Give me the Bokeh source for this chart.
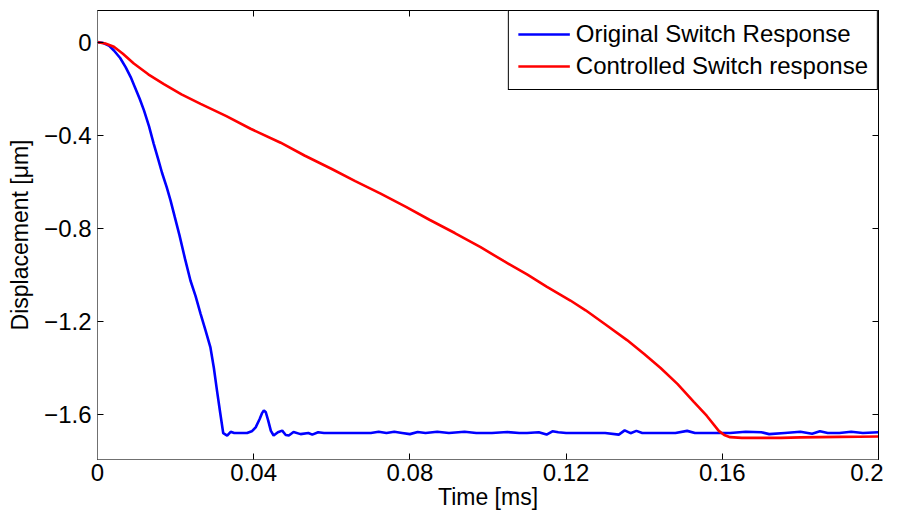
from bokeh.plotting import figure
from bokeh.models import Range1d, LinearAxis, FixedTicker, Legend, LegendItem, CustomJSTickFormatter
from bokeh.embed import file_html
from bokeh.resources import INLINE

# Original switch response (blue)
t_orig = [0, 0.0015, 0.003, 0.0042, 0.0058, 0.0072, 0.0085, 0.0095, 0.0108, 0.0119, 0.0132,
          0.0144, 0.0155, 0.0165, 0.0177, 0.0187, 0.0198, 0.021, 0.0224,
          0.0238, 0.0251, 0.0264, 0.0277, 0.0289, 0.0298, 0.0306, 0.0314, 0.0322, 0.0332,
          0.0341, 0.0350, 0.0383,
          0.0395, 0.0405, 0.0415, 0.0421, 0.0426, 0.0431, 0.0437, 0.0444, 0.0451, 0.0462,
          0.0473, 0.0482, 0.0490, 0.0502,
          0.0520, 0.0540, 0.0550, 0.0565, 0.0580, 0.0600, 0.0640, 0.0700, 0.0720, 0.0740,
          0.0760, 0.0780, 0.0800, 0.0820, 0.0840, 0.0870, 0.0900, 0.0940, 0.0970, 0.1010,
          0.1050, 0.1080, 0.1100, 0.1130, 0.1150, 0.1165, 0.1180, 0.1200, 0.1240, 0.1270,
          0.1300, 0.1335, 0.1350, 0.1365, 0.1380, 0.1395, 0.1420, 0.1480, 0.1510, 0.1530,
          0.1580, 0.1620, 0.1660, 0.1700, 0.1720, 0.1760, 0.1800, 0.1830, 0.1850, 0.1870,
          0.1900, 0.1930, 0.1960, 0.2000]
v_orig = [0, -0.004, -0.016, -0.036, -0.068, -0.107, -0.150, -0.190, -0.243, -0.293, -0.362,
          -0.437, -0.500, -0.560, -0.622, -0.680, -0.752, -0.830, -0.930,
          -1.024, -1.090, -1.167, -1.240, -1.310, -1.400, -1.497, -1.590, -1.680, -1.690,
          -1.674, -1.679, -1.679,
          -1.672, -1.655, -1.620, -1.595, -1.582, -1.590, -1.625, -1.670, -1.690, -1.676,
          -1.669, -1.688, -1.690, -1.675,
          -1.684, -1.679, -1.686, -1.676, -1.679, -1.679, -1.679, -1.679, -1.674, -1.679,
          -1.674, -1.679, -1.684, -1.675, -1.679, -1.674, -1.679, -1.674, -1.679, -1.679,
          -1.675, -1.679, -1.679, -1.676, -1.686, -1.672, -1.676, -1.679, -1.679, -1.679,
          -1.679, -1.686, -1.668, -1.680, -1.670, -1.679, -1.679, -1.679, -1.670, -1.679,
          -1.679, -1.679, -1.674, -1.676, -1.684, -1.679, -1.674, -1.682, -1.672, -1.679,
          -1.679, -1.674, -1.679, -1.676]

# Controlled switch response (red)
t_ctrl = [0, 0.002, 0.0042, 0.0065, 0.0093, 0.013, 0.017, 0.0215, 0.0264, 0.033,
          0.0392, 0.0469, 0.0530, 0.0600, 0.0660, 0.0725, 0.0790, 0.0850, 0.0915,
          0.0981, 0.1040, 0.1100, 0.1150, 0.1211, 0.1250, 0.1300, 0.1356, 0.1400,
          0.1442, 0.1485, 0.1527, 0.1560, 0.1591, 0.1605, 0.1620, 0.1650, 0.1700,
          0.1750, 0.1800, 0.1850, 0.1900, 0.1950, 0.2000]
v_ctrl = [0, -0.006, -0.020, -0.050, -0.092, -0.138, -0.180, -0.224, -0.265, -0.318,
          -0.372, -0.432, -0.487, -0.545, -0.597, -0.651, -0.708, -0.763, -0.820,
          -0.881, -0.940, -0.998, -1.050, -1.110, -1.152, -1.212, -1.280, -1.340,
          -1.400, -1.468, -1.545, -1.605, -1.670, -1.688, -1.697, -1.700, -1.700,
          -1.700, -1.698, -1.697, -1.696, -1.695, -1.694]

x_ticks = [0, 0.04, 0.08, 0.12, 0.16, 0.2]
y_ticks = [0, -0.4, -0.8, -1.2, -1.6]

FONT = "Liberation Sans"

p = figure(frame_width=781, frame_height=449, output_backend="svg", toolbar_location=None,
           x_range=Range1d(0, 0.2), y_range=Range1d(-1.793, 0.136),
           min_border_left=97, min_border_top=10, min_border_right=5, min_border_bottom=40,
           background_fill_color="white", border_fill_color="white")
p.grid.visible = False
p.outline_line_color = "black"
p.outline_line_width = 1

fmt = CustomJSTickFormatter(code="""
var s = (Math.round(tick*1000)/1000).toString();
return s.replace('-', '\u2212');
""")
blank = CustomJSTickFormatter(code="return '';")

for ax, ticks in ((p.xaxis[0], x_ticks), (p.yaxis[0], y_ticks)):
    ax.ticker = FixedTicker(ticks=ticks)
    ax.formatter = fmt
    ax.major_tick_in = 6
    ax.major_tick_out = 0
    ax.minor_tick_line_color = None
    ax.axis_line_color = "#707070"
    ax.major_tick_line_color = "black"
    ax.major_label_text_font = FONT
    ax.major_label_text_font_size = "24px"
    ax.major_label_text_color = "black"
    ax.axis_label_text_font = FONT
    ax.axis_label_text_font_size = "23px"
    ax.axis_label_text_font_style = "normal"
    ax.axis_label_text_color = "black"

p.xaxis[0].axis_label = "Time [ms]"
p.xaxis[0].major_label_standoff = 4
p.xaxis[0].axis_label_standoff = 0
p.yaxis[0].axis_label = "Displacement [\u03bcm]"
p.yaxis[0].major_label_standoff = 6
p.yaxis[0].axis_label_standoff = 8

top = LinearAxis(ticker=FixedTicker(ticks=x_ticks), formatter=blank,
                 major_tick_in=6, major_tick_out=0, minor_tick_line_color=None,
                 axis_line_color="black", major_label_standoff=0)
right = LinearAxis(ticker=FixedTicker(ticks=y_ticks), formatter=blank,
                   major_tick_in=6, major_tick_out=0, minor_tick_line_color=None,
                   axis_line_color="black", major_label_standoff=0)
p.add_layout(top, "above")
p.add_layout(right, "right")

r1 = p.line(t_orig, v_orig, line_color="#0000ff", line_width=2.6)
r2 = p.line(t_ctrl, v_ctrl, line_color="#ff0000", line_width=2.6)

legend = Legend(items=[LegendItem(label="Original Switch Response", renderers=[r1]),
                       LegendItem(label="Controlled Switch response", renderers=[r2])],
                location="top_right", margin=0, padding=9, spacing=4,
                glyph_width=52, glyph_height=24, label_height=24, label_standoff=6,
                label_text_font=FONT, label_text_font_size="24px", label_text_color="black",
                border_line_color="black", border_line_width=1, border_line_alpha=1.0,
                background_fill_alpha=1.0)
p.add_layout(legend, "center")

open("out.html", "w").write(file_html(p, INLINE))
